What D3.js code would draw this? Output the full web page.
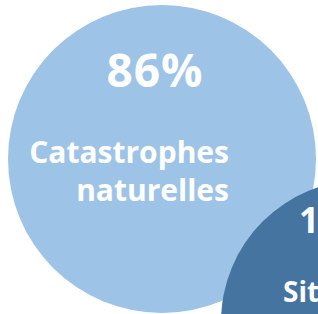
<!DOCTYPE html>
<html><head><meta charset="utf-8">
<script src="https://cdn.jsdelivr.net/npm/d3@7"></script>
<style>html,body{margin:0;padding:0;background:#fff;overflow:hidden}</style>
</head><body>
<script>
const categories = ["Catastrophes naturelles", "Situations de conflit"];
const values = [86, 14];
const labelLines = [["Catastrophes", "naturelles"], ["Situations", "de conflit"]];
const colors = ["#9DC3E6", "#44749F"];

const W = 318, H = 314;
const svg = d3.select("body").append("svg").attr("width", W).attr("height", H);

const r = d3.scaleLinear().domain([14, 86]).range([142, 154]);
const color = d3.scaleOrdinal().domain(categories).range(colors);
const centers = [[162, 159], [363, 322]];

const font = "'Open Sans', sans-serif";

const g = svg.selectAll("g.bubble").data(values).join("g").attr("class", "bubble")
  .attr("transform", (d, i) => `translate(${centers[i][0]},${centers[i][1]})`);

g.append("circle").attr("r", d => r(d)).attr("fill", (d, i) => color(categories[i]));

// percentage labels
g.append("text")
  .attr("x", (d, i) => i === 0 ? -7 : -64)
  .attr("y", (d, i) => i === 0 ? -72 : -89)
  .attr("text-anchor", (d, i) => i === 0 ? "middle" : "start")
  .attr("fill", "#fff").attr("font-family", font).attr("font-weight", 700)
  .attr("letter-spacing", 1)
  .attr("font-size", (d, i) => i === 0 ? 46 : 35)
  .text(d => d + "%");

// category labels
g.each(function(d, i) {
  const t = d3.select(this).append("text")
    .attr("fill", "#fff").attr("font-family", font).attr("font-weight", 700)
    .attr("font-size", i === 0 ? 30 : 28)
    .attr("text-anchor", i === 0 ? "end" : "start");
  labelLines[i].forEach((line, k) => {
    t.append("tspan")
      .attr("x", i === 0 ? 67 : -80)
      .attr("y", (i === 0 ? 4 : -20) + k * 38)
      .text(line);
  });
});
</script>
</body></html>
